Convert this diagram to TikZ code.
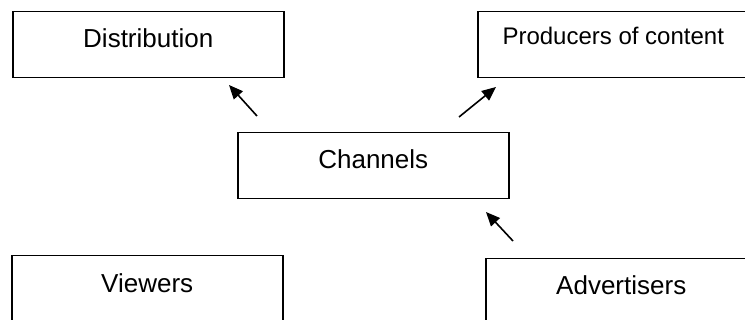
\documentclass[tikz,border=0pt]{standalone}
\usepackage{fontspec}
\setmainfont{Liberation Sans}
\usetikzlibrary{arrows.meta}

\begin{document}
\begin{tikzpicture}[x=1pt,y=-1pt,
  box/.style={draw, line width=1.5pt, anchor=north west, minimum width=271pt,
    inner xsep=0pt, inner ysep=0pt, text height=36pt, text depth=30pt,
    font=\fontsize{26}{30}\selectfont},
  arr/.style={-{Triangle[length=14pt,width=12pt]}, line width=1.6pt}]

\clip (0,0) rectangle (745,320);

\node[box] (dist) at (12,11) {Distribution};
\node[box, text height=33pt, text depth=33pt,
  font=\fontsize{24}{28}\selectfont] (prod) at (477,11) {Producers of content};
\node[box] (chan) at (237,132) {Channels};
\node[box, text height=37pt, text depth=28pt] (view) at (11,255) {Viewers};
\node[box] (adv) at (485,258) {Advertisers};

% free ends of the arrows
\coordinate (distT) at (257,116);
\coordinate (distH) at (229,85);
\coordinate (prodT) at (459,117);
\coordinate (prodH) at (496,87);
\coordinate (advT) at (513,241);
\coordinate (advH) at (486,212);

\draw[arr] (distT) -- (distH);
\draw[arr] (prodT) -- (prodH);
\draw[arr] (advT) -- (advH);

\end{tikzpicture}
\end{document}
